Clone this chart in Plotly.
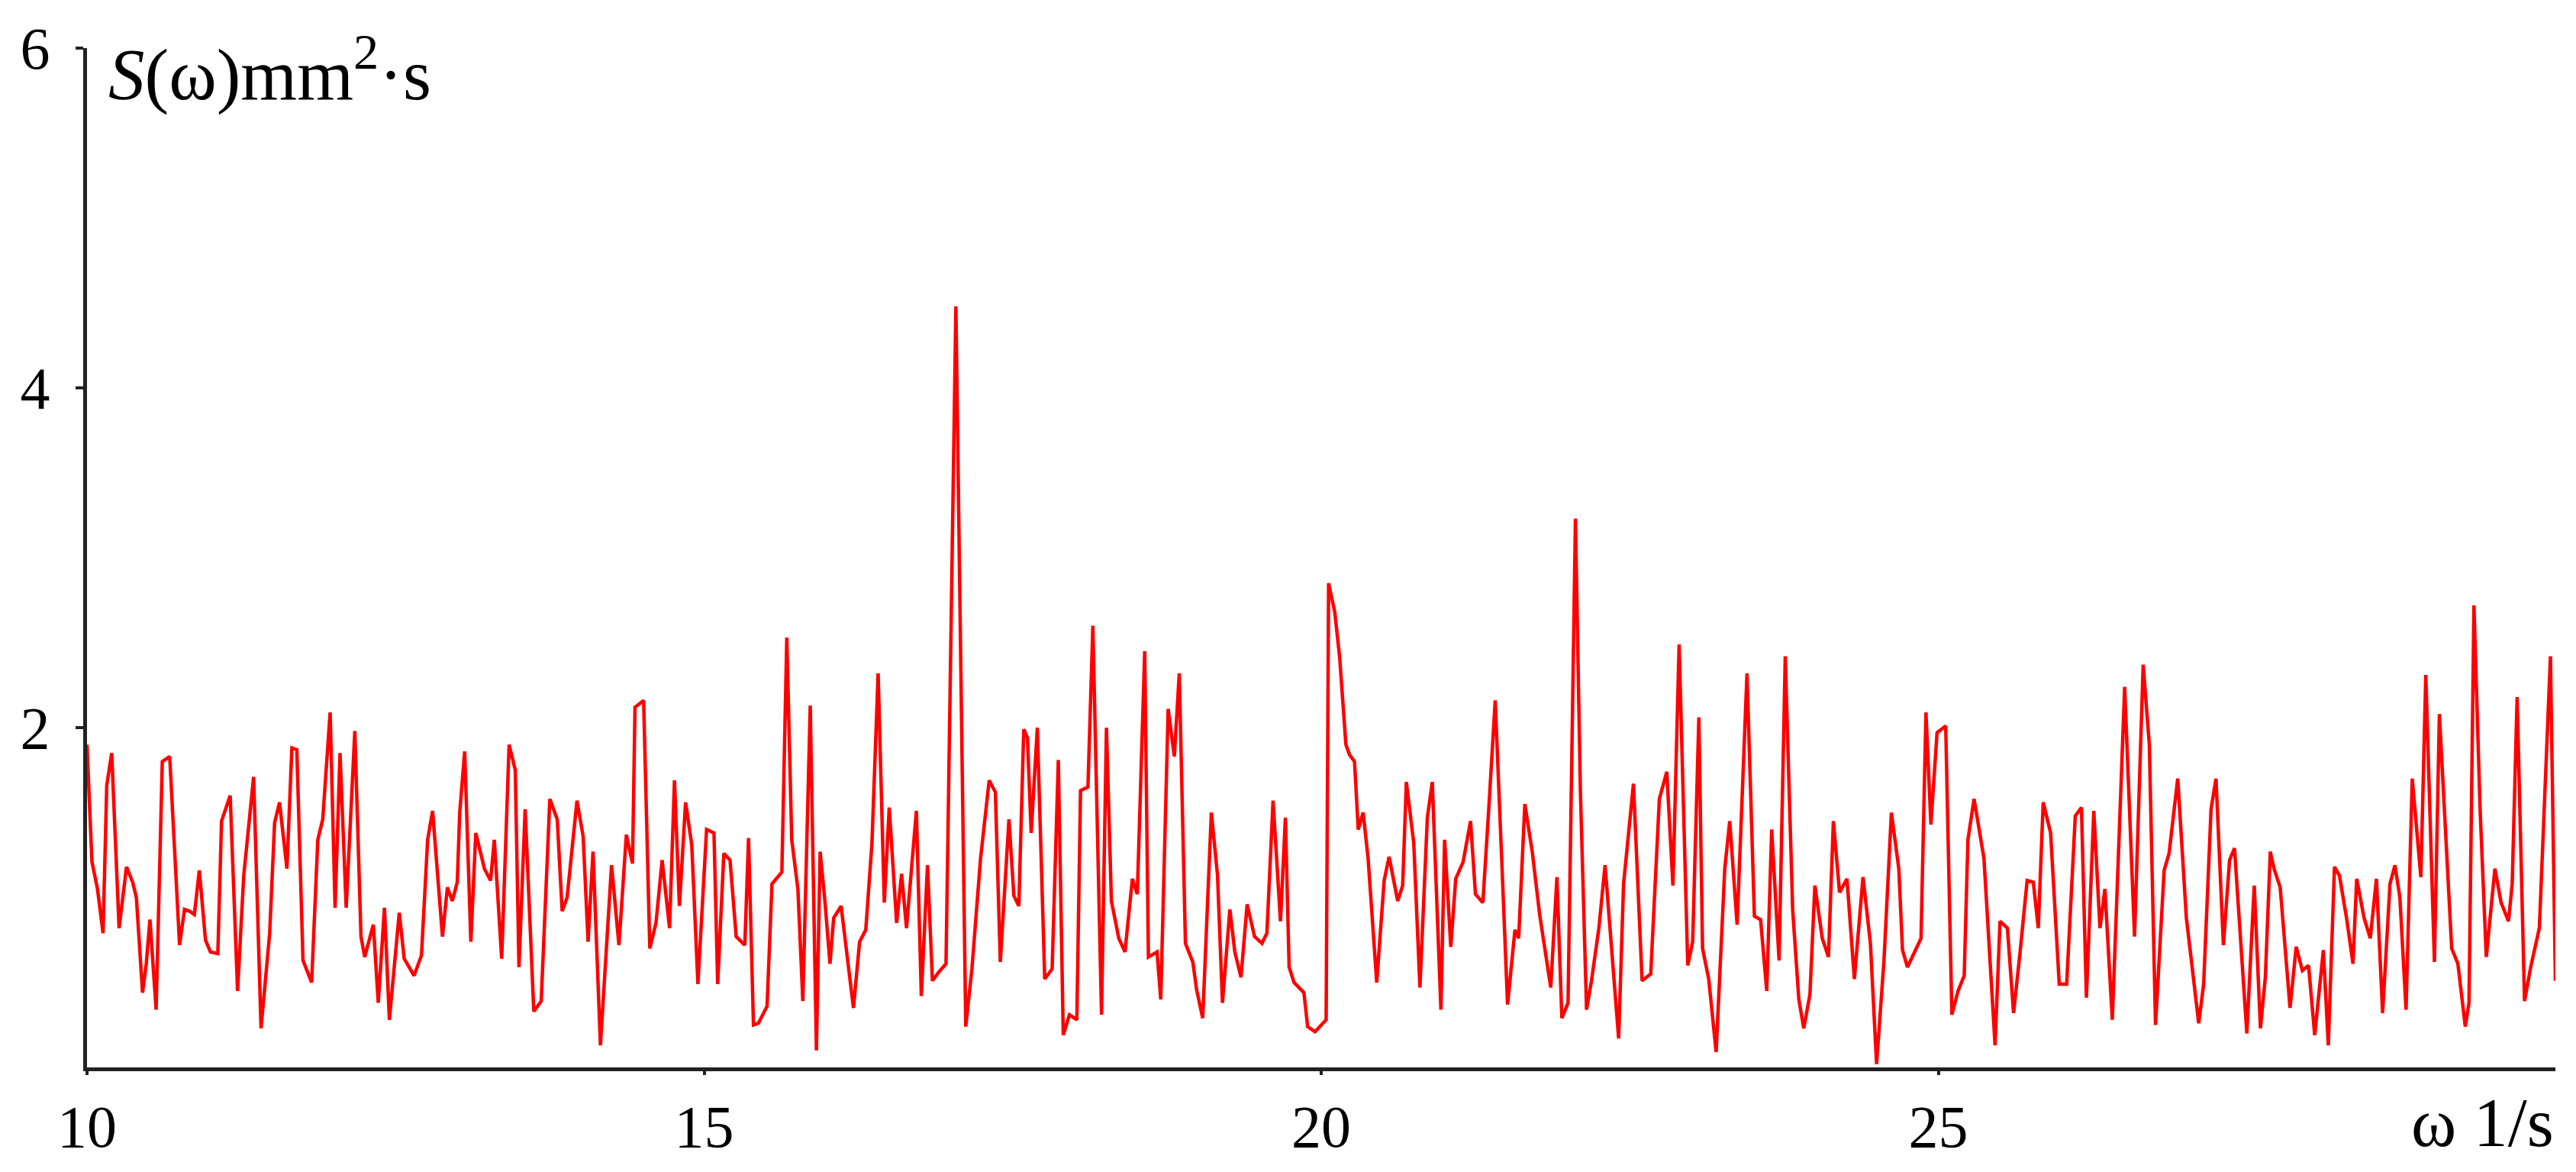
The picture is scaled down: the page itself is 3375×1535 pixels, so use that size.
import plotly.graph_objects as go

# Spectral density S(omega), vertices
omega = [
    10.00, 10.04, 10.085, 10.13, 10.16, 10.20, 10.26, 10.32, 10.37, 10.40, 10.45, 10.48, 10.51, 10.56,
    10.61, 10.67, 10.75, 10.79, 10.83, 10.87, 10.91, 10.96, 11.00, 11.06, 11.09, 11.16, 11.22, 11.27,
    11.35, 11.41, 11.48, 11.52, 11.56, 11.62, 11.66, 11.70, 11.75, 11.82, 11.87, 11.91, 11.97, 12.01,
    12.05, 12.10, 12.17, 12.22, 12.25, 12.32, 12.36, 12.41, 12.45,
    12.53, 12.57, 12.65, 12.71, 12.76, 12.80, 12.88, 12.92, 12.96, 13.00, 13.02, 13.06, 13.11, 13.15,
    13.22, 13.27, 13.30, 13.36, 13.42, 13.47, 13.50, 13.55, 13.62, 13.68, 13.75, 13.81, 13.85, 13.89,
    13.97, 14.02, 14.06, 14.10, 14.16, 14.25, 14.31, 14.37, 14.42, 14.44, 14.51, 14.56, 14.61, 14.66,
    14.72, 14.76, 14.80, 14.85, 14.90, 14.95,
    15.02, 15.08, 15.11, 15.16, 15.21, 15.26, 15.33, 15.36, 15.40, 15.44, 15.51, 15.55, 15.63, 15.67,
    15.71, 15.76, 15.80, 15.86, 15.91, 15.94, 15.98, 16.02, 16.05, 16.11, 16.17, 16.21, 16.26, 16.31,
    16.36, 16.41, 16.46, 16.50, 16.56, 16.60, 16.64, 16.72, 16.76, 16.81, 16.85, 16.90, 16.96, 17.04,
    17.12, 17.17, 17.24, 17.31, 17.36, 17.40, 17.47,
    17.51, 17.55, 17.59, 17.62, 17.65, 17.70, 17.76, 17.82, 17.87, 17.91, 17.96, 18.02, 18.05, 18.11,
    18.15, 18.22, 18.26, 18.30, 18.36, 18.41, 18.47, 18.51, 18.57, 18.60, 18.67, 18.70, 18.76, 18.81,
    18.85, 18.90, 18.96, 18.99, 19.04, 19.11, 19.16, 19.20, 19.26, 19.30, 19.35, 19.40, 19.46, 19.52,
    19.56, 19.61, 19.67, 19.71, 19.74, 19.78, 19.86, 19.89, 19.95,
    20.04, 20.06, 20.11, 20.15, 20.20, 20.23, 20.27, 20.30, 20.34, 20.38, 20.45, 20.51, 20.55, 20.62,
    20.66, 20.69, 20.75, 20.80, 20.86, 20.90, 20.97, 21.00, 21.05, 21.09, 21.15, 21.21, 21.25, 21.31,
    21.36, 21.41, 21.46, 21.51, 21.57, 21.60, 21.65, 21.71, 21.77, 21.83, 21.86, 21.91, 21.95, 22.00,
    22.06, 22.10, 22.15, 22.19, 22.25, 22.30, 22.36, 22.41, 22.45,
    22.53, 22.60, 22.67, 22.74, 22.80, 22.85, 22.90, 22.97, 23.01, 23.06, 23.09, 23.14, 23.20, 23.27,
    23.31, 23.37, 23.45, 23.51, 23.56, 23.61, 23.65, 23.71, 23.76, 23.82, 23.87, 23.91, 23.96, 24.00,
    24.06, 24.11, 24.15, 24.20, 24.26, 24.32, 24.39, 24.45, 24.50, 24.56, 24.62, 24.68, 24.71, 24.75,
    24.86, 24.90, 24.94, 24.99,
    25.06, 25.11, 25.16, 25.21, 25.24, 25.29, 25.37, 25.46, 25.50, 25.56, 25.61, 25.66, 25.72, 25.77,
    25.81, 25.85, 25.91, 25.98, 26.04, 26.11, 26.16, 26.20, 26.26, 26.31, 26.35, 26.41, 26.51, 26.59,
    26.66, 26.71, 26.76, 26.83, 26.87, 26.94, 27.01, 27.11, 27.15, 27.21, 27.25, 27.31, 27.36, 27.40,
    27.50,
    27.56, 27.61, 27.65, 27.69, 27.72, 27.77, 27.85, 27.90, 27.95, 28.00, 28.05, 28.12, 28.16, 28.21,
    28.25, 28.31, 28.36, 28.39, 28.45, 28.50, 28.55, 28.60, 28.66, 28.70, 28.74, 28.79, 28.84, 28.88,
    28.91, 28.95, 29.02, 29.06, 29.11, 29.16, 29.21, 29.27, 29.30, 29.34, 29.39, 29.44, 29.51, 29.56,
    29.62, 29.65, 29.69, 29.75, 29.80, 29.87, 29.96, 30.00,
]

S = [
    1.90, 1.21, 1.05, 0.79, 1.66, 1.85, 0.82, 1.18, 1.09, 1.00, 0.44, 0.61, 0.87, 0.34,
    1.80, 1.83, 0.72, 0.93, 0.92, 0.90, 1.16, 0.75, 0.68, 0.67, 1.45, 1.60, 0.45, 1.13,
    1.71, 0.23, 0.79, 1.44, 1.56, 1.17, 1.88, 1.87, 0.63, 0.50, 1.34, 1.46, 2.09, 0.94,
    1.85, 0.94, 1.98, 0.77, 0.65, 0.84, 0.38, 0.94, 0.28,
    0.91, 0.64, 0.54, 0.66, 1.34, 1.51, 0.77, 1.06, 0.98, 1.09, 1.50, 1.86, 0.74, 1.38,
    1.17, 1.10, 1.34, 0.64, 1.90, 1.75, 0.59, 1.52, 0.33, 0.39, 1.58, 1.46, 0.92, 1.00,
    1.57, 1.36, 0.74, 1.27, 0.13, 1.19, 0.72, 1.37, 1.20, 2.12, 2.16, 0.70, 0.85, 1.22,
    0.82, 1.69, 0.95, 1.56, 1.31, 0.49,
    1.40, 1.38, 0.49, 1.26, 1.22, 0.77, 0.72, 1.35, 0.25, 0.26, 0.36, 1.08, 1.15, 2.53,
    1.34, 1.05, 0.39, 2.13, 0.10, 1.27, 0.97, 0.61, 0.88, 0.95, 0.59, 0.35, 0.74, 0.81,
    1.32, 2.32, 0.97, 1.53, 0.85, 1.14, 0.82, 1.51, 0.42, 1.19, 0.51, 0.56, 0.61, 4.48,
    0.24, 0.58, 1.23, 1.69, 1.62, 0.62, 1.46,
    1.01, 0.95, 1.99, 1.94, 1.38, 2.00, 0.52, 0.58, 1.81, 0.19, 0.31, 0.28, 1.63, 1.65,
    2.60, 0.31, 2.00, 0.98, 0.76, 0.68, 1.11, 1.02, 2.45, 0.65, 0.68, 0.40, 2.11, 1.83,
    2.32, 0.73, 0.62, 0.46, 0.29, 1.50, 1.13, 0.38, 0.93, 0.68, 0.53, 0.96, 0.77, 0.73,
    0.79, 1.57, 0.86, 1.47, 0.59, 0.50, 0.44, 0.24, 0.21,
    0.28, 2.85, 2.68, 2.41, 1.90, 1.84, 1.80, 1.40, 1.50, 1.23, 0.50, 1.10, 1.24, 0.98,
    1.07, 1.68, 1.32, 0.47, 1.47, 1.68, 0.34, 1.34, 0.71, 1.11, 1.21, 1.45, 1.02, 0.97,
    1.55, 2.16, 1.27, 0.37, 0.81, 0.76, 1.55, 1.27, 0.90, 0.63, 0.47, 1.12, 0.29, 0.38,
    3.23, 1.63, 0.34, 0.51, 0.82, 1.19, 0.64, 0.17, 1.08,
    1.67, 0.51, 0.55, 1.58, 1.74, 1.07, 2.49, 0.60, 0.74, 2.06, 0.70, 0.52, 0.09, 1.17,
    1.45, 0.84, 2.32, 0.89, 0.87, 0.45, 1.40, 0.63, 2.42, 0.93, 0.40, 0.23, 0.43, 1.07,
    0.76, 0.65, 1.45, 1.03, 1.11, 0.52, 1.12, 0.73, 0.02, 0.63, 1.50, 1.17, 0.69, 0.59,
    0.76, 2.09, 1.43, 1.97,
    2.01, 0.31, 0.45, 0.54, 1.34, 1.58, 1.23, 0.13, 0.86, 0.82, 0.32, 0.66, 1.10, 1.09,
    0.82, 1.56, 1.38, 0.49, 0.49, 1.48, 1.53, 0.41, 1.51, 0.82, 1.05, 0.28, 2.24, 0.77,
    2.37, 1.90, 0.25, 1.16, 1.26, 1.70, 0.88, 0.26, 0.49, 1.52, 1.70, 0.72, 1.22, 1.29,
    0.20,
    1.07, 0.23, 0.53, 1.27, 1.17, 1.06, 0.35, 0.71, 0.57, 0.60, 0.19, 0.69, 0.13, 1.18,
    1.13, 0.87, 0.61, 1.11, 0.88, 0.76, 1.11, 0.32, 1.08, 1.19, 1.00, 0.34, 1.70, 1.34,
    1.12, 2.31, 0.62, 2.08, 1.34, 0.70, 0.61, 0.24, 0.38, 2.72, 1.52, 0.65, 1.17, 0.97,
    0.86, 1.08, 2.18, 0.39, 0.59, 0.82, 2.42, 0.51,
]

x_ticks = [10, 15, 20, 25]
x_tick_labels = ["10", "15", "20", "25"]
y_ticks = [2, 4, 6]
y_tick_labels = ["2", "4", "6"]

serif = "Liberation Serif, Times New Roman, serif"

fig = go.Figure()
fig.add_trace(go.Scatter(
    x=omega,
    y=S,
    mode="lines",
    line=dict(color="#ff0000", width=4.5),
    hoverinfo="skip",
))

fig.update_layout(
    width=3375,
    height=1535,
    margin=dict(l=106, r=35, t=55, b=145),
    plot_bgcolor="white",
    paper_bgcolor="white",
    showlegend=False,
    font=dict(family=serif, color="black"),
)

fig.update_xaxes(
    range=[10, 30],
    tickvals=x_ticks,
    ticktext=x_tick_labels,
    showline=True, linecolor="#222222", linewidth=5,
    ticks="outside", ticklen=5, tickwidth=4, tickcolor="#222222",
    tickfont=dict(family=serif, size=78, color="black"),
    ticklabelstandoff=0,
    showgrid=False, zeroline=False, automargin=False,
)
fig.update_yaxes(
    range=[0, 6],
    tickvals=y_ticks,
    ticktext=y_tick_labels,
    showline=True, linecolor="#222222", linewidth=5,
    ticks="outside", ticklen=10, tickwidth=4, tickcolor="#222222",
    tickfont=dict(family=serif, size=78, color="black"),
    ticklabelstandoff=18,
    showgrid=False, zeroline=False, automargin=False,
)

# axis captions
fig.add_annotation(
    text="<i>S</i>(ω)mm<sup>2</sup>·s",
    xref="paper", yref="paper", x=0.008, y=0.979,
    xanchor="left", yanchor="middle", showarrow=False,
    font=dict(family=serif, size=95, color="black"),
)
fig.add_annotation(
    text="ω 1/s",
    xref="paper", yref="paper", x=1.0, y=-0.054,
    xanchor="right", yanchor="middle", showarrow=False,
    font=dict(family=serif, size=90, color="black"),
)

fig.write_html("out.html")
